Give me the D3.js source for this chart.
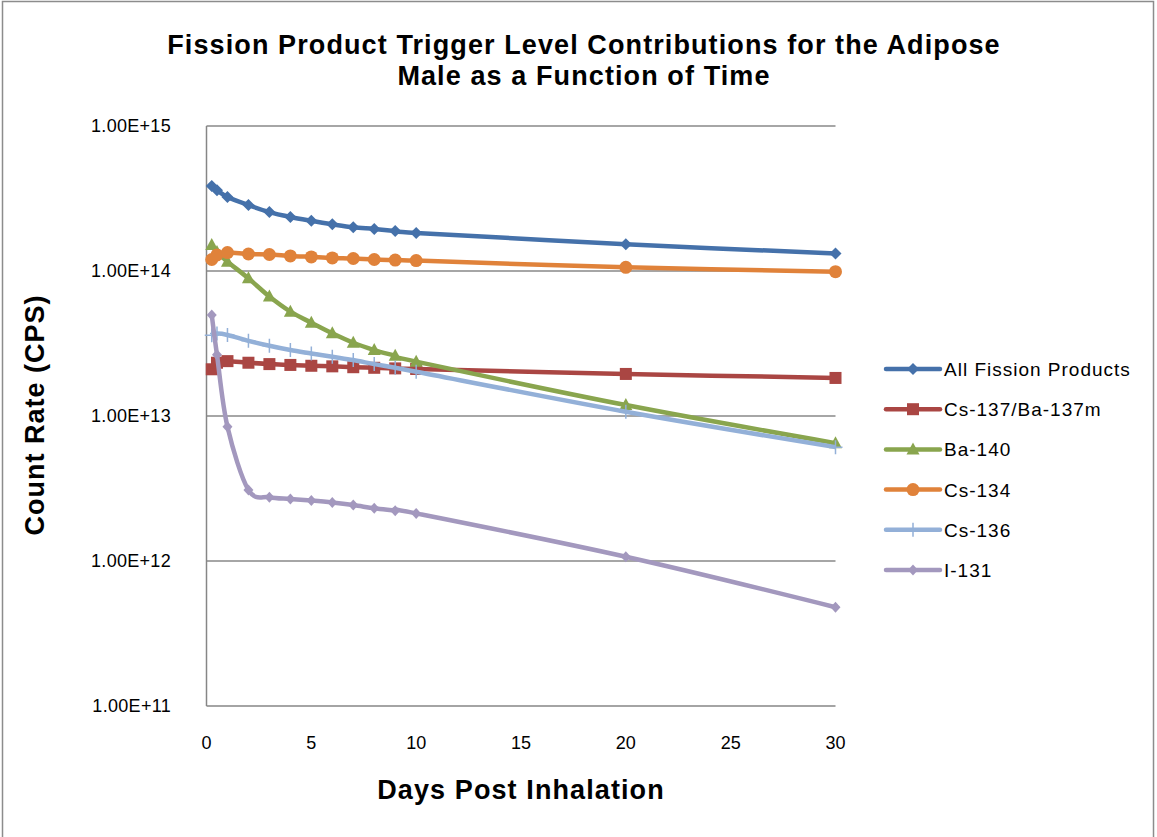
<!DOCTYPE html>
<html><head><meta charset="utf-8">
<script src="https://cdn.jsdelivr.net/npm/d3@7"></script>
<style>body{margin:0;background:#fff}svg{display:block}text{font-family:"Liberation Sans",Arial,sans-serif}</style>
</head><body>
<svg id="c" width="1157" height="837"></svg>
<script>
const days = [0.25, 0.5, 1, 2, 3, 4, 5, 6, 7, 8, 9, 10, 20, 30];
const allFP   = [3.85e14, 3.6e14, 3.24e14, 2.85e14, 2.55e14, 2.36e14, 2.22e14, 2.1e14, 2.0e14, 1.95e14, 1.89e14, 1.83e14, 1.53e14, 1.32e14];
const cs137   = [2.1e13, 2.33e13, 2.39e13, 2.33e13, 2.28e13, 2.25e13, 2.22e13, 2.2e13, 2.17e13, 2.15e13, 2.13e13, 2.11e13, 1.95e13, 1.83e13];
const ba140   = [1.51e14, 1.35e14, 1.16e14, 8.9e13, 6.66e13, 5.24e13, 4.4e13, 3.72e13, 3.2e13, 2.85e13, 2.6e13, 2.37e13, 1.19e13, 6.5e12];
const cs134   = [1.2e14, 1.29e14, 1.34e14, 1.31e14, 1.3e14, 1.27e14, 1.25e14, 1.23e14, 1.22e14, 1.2e14, 1.19e14, 1.18e14, 1.06e14, 0.99e14];
const cs136   = [3.6e13, 3.7e13, 3.62e13, 3.3e13, 3.05e13, 2.85e13, 2.7e13, 2.56e13, 2.43e13, 2.28e13, 2.15e13, 2.02e13, 1.07e13, 6.1e12];
const i131    = [4.98e13, 2.64e13, 8.44e12, 3.09e12, 2.75e12, 2.68e12, 2.61e12, 2.53e12, 2.43e12, 2.31e12, 2.22e12, 2.13e12, 1.07e12, 4.8e11];
const seriesNames = ["All Fission Products", "Cs-137/Ba-137m", "Ba-140", "Cs-134", "Cs-136", "I-131"];
const yTicks = [1e11, 1e12, 1e13, 1e14, 1e15];
const xTicks = [0, 5, 10, 15, 20, 25, 30];

const colors = ["#4571AA", "#AA4643", "#89A54E", "#E0823A", "#93B0D8", "#A398BE"];
const shapes = ["diamond", "square", "triangle", "circle", "plus", "diamondS"];
const data = [allFP, cs137, ba140, cs134, cs136, i131];

const svg = d3.select("#c");
svg.append("rect").attr("x",2.5).attr("y",1.5).attr("width",1151).attr("height",840).attr("fill","#fff").attr("stroke","#8c8c8c").attr("stroke-width",1.5);

const x = d3.scaleLinear().domain([0,30]).range([206.5,835.5]);
const y = d3.scaleLog().domain([1e11,1e15]).range([706,126]);

// gridlines
svg.append("g").selectAll("line").data(yTicks.slice(1)).join("line")
  .attr("x1",x(0)).attr("x2",x(30)).attr("y1",d=>y(d)).attr("y2",d=>y(d))
  .attr("stroke","#888").attr("stroke-width",1.5);
// axes lines
svg.append("line").attr("x1",x(0)).attr("x2",x(0)).attr("y1",y(1e15)).attr("y2",y(1e11)).attr("stroke","#868686").attr("stroke-width",1.5);
svg.append("line").attr("x1",x(0)).attr("x2",x(30)).attr("y1",y(1e11)).attr("y2",y(1e11)).attr("stroke","#868686").attr("stroke-width",1.5);

// tick labels
svg.append("g").selectAll("text").data(yTicks).join("text")
  .attr("x",171).attr("y",d=>y(d)+6).attr("text-anchor","end").attr("font-size",18).attr("letter-spacing",0.3).attr("fill","#000")
  .text(d=>d.toExponential(2).toUpperCase());
svg.append("g").selectAll("text").data(xTicks).join("text")
  .attr("x",d=>x(d)).attr("y",749).attr("text-anchor","middle").attr("font-size",18).attr("fill","#000")
  .text(d=>d);

// titles
const title = svg.append("text").attr("text-anchor","middle").attr("font-size",27).attr("font-weight","bold").attr("letter-spacing",1.1);
title.append("tspan").attr("x",584).attr("y",54).text("Fission Product Trigger Level Contributions for the Adipose");
title.append("tspan").attr("x",584).attr("y",85).text("Male as a Function of Time");
svg.append("text").attr("x",521).attr("y",799).attr("text-anchor","middle").attr("font-size",27).attr("font-weight","bold").attr("letter-spacing",1.1).text("Days Post Inhalation");
svg.append("text").attr("transform","translate(44,415) rotate(-90)").attr("text-anchor","middle").attr("font-size",27).attr("font-weight","bold").attr("letter-spacing",1.0).text("Count Rate (CPS)");

function marker(g, shape, cx, cy, color){
  if(shape==="diamond"){
    g.append("path").attr("d",`M${cx},${cy-6}L${cx+6},${cy}L${cx},${cy+6}L${cx-6},${cy}Z`).attr("fill",color);
  } else if(shape==="diamondS"){
    g.append("path").attr("d",`M${cx},${cy-5.5}L${cx+5},${cy}L${cx},${cy+5.5}L${cx-5},${cy}Z`).attr("fill",color);
  } else if(shape==="square"){
    g.append("rect").attr("x",cx-6).attr("y",cy-6).attr("width",12).attr("height",12).attr("fill",color);
  } else if(shape==="triangle"){
    g.append("path").attr("d",`M${cx},${cy-7}L${cx+6.5},${cy+5}L${cx-6.5},${cy+5}Z`).attr("fill",color);
  } else if(shape==="circle"){
    g.append("circle").attr("cx",cx).attr("cy",cy).attr("r",6.5).attr("fill",color);
  } else if(shape==="plus"){
    g.append("path").attr("d",`M${cx-7},${cy}H${cx+7}M${cx},${cy-7}V${cy+7}`).attr("stroke",color).attr("stroke-width",1.5);
  }
}

const line = d3.line().x(d=>x(d[0])).y(d=>y(d[1])).curve(d3.curveCardinal.tension(0));
data.forEach((vals,i)=>{
  const g = svg.append("g");
  const pts = days.map((d,j)=>[d, vals[j]]);
  g.append("path").attr("d",line(pts)).attr("fill","none").attr("stroke",colors[i]).attr("stroke-width",4.5).attr("stroke-linejoin","round");
  pts.forEach(p=>marker(g, shapes[i], x(p[0]), y(p[1]), colors[i]));
});

// legend
const lg = svg.append("g");
seriesNames.forEach((name,i)=>{
  const ly = 369 + i*40.2;
  lg.append("line").attr("x1",886).attr("x2",940).attr("y1",ly).attr("y2",ly).attr("stroke",colors[i]).attr("stroke-width",4.5).attr("stroke-linecap","round");
  marker(lg, shapes[i], 913, ly, colors[i]);
  lg.append("text").attr("x",944).attr("y",ly+7).attr("font-size",19).attr("letter-spacing",1).attr("fill","#000").text(name);
});
</script>
</body></html>
